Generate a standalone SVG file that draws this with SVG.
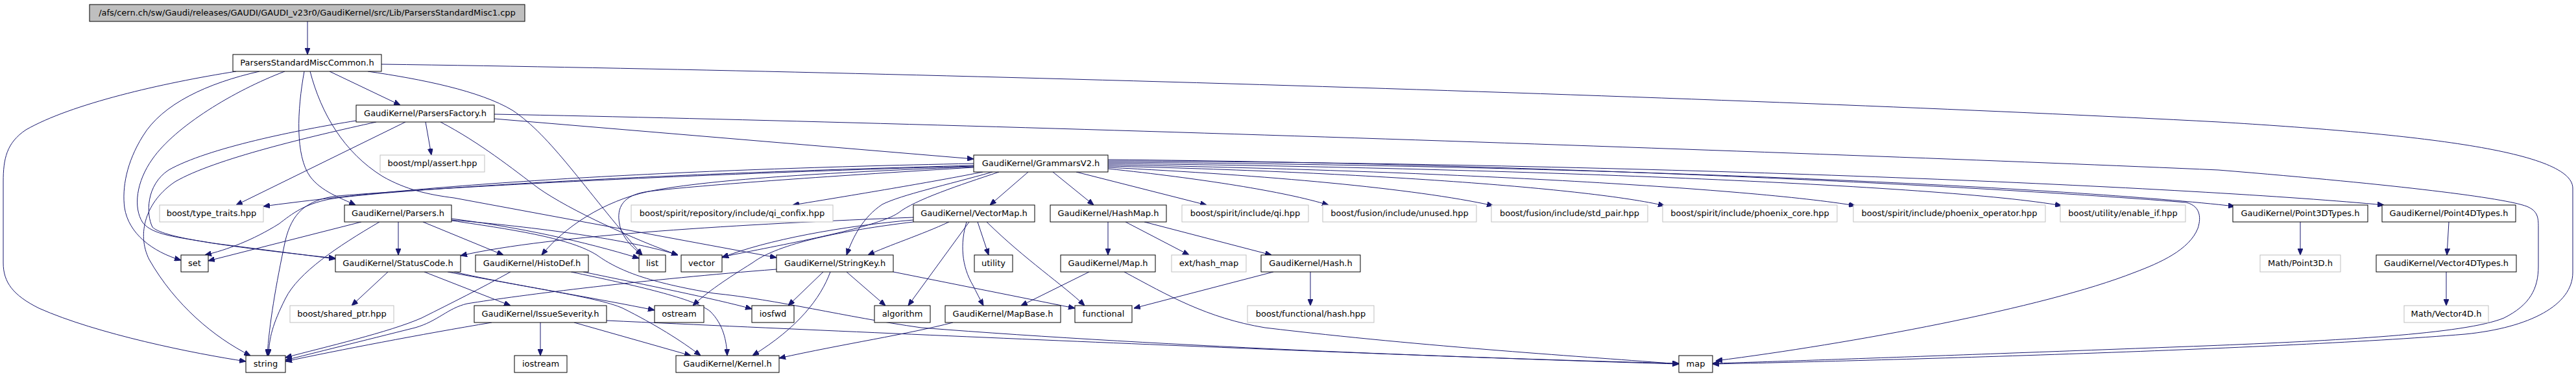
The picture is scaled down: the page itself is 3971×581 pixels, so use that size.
<svg xmlns="http://www.w3.org/2000/svg" width="3971" height="581" viewBox="0 0 3971 581">
<defs>
<style>
.n rect{fill:#ffffff;stroke:#000000;stroke-width:1}
.g rect{fill:#ffffff;stroke:#bfbfbf;stroke-width:1}
.r rect{fill:#bfbfbf;stroke:#000000;stroke-width:1}
text{font-family:"DejaVu Sans","Liberation Sans",sans-serif;font-size:13px;text-anchor:middle;fill:#000000}
#edges path{fill:none;stroke:#191970;stroke-width:1;marker-end:url(#ah)}
</style>
<marker id="ah" markerWidth="10" markerHeight="8" refX="10" refY="4" orient="auto" markerUnits="userSpaceOnUse"><path d="M0,0 L10,4 L0,8 z" fill="#191970" stroke="#191970" stroke-width="1"/></marker>
</defs>
<rect x="0" y="0" width="3971" height="581" fill="#ffffff"/>
<g id="edges">
<path d="M474,33 L474,84"/>
<path d="M364,110 C250,128 110,160 40,200 C10,220 5,245 5,280 L5,405 C5,435 20,455 60,475 C150,515 300,545 379,557"/>
<path d="M400,110 C320,128 250,160 220,210 C195,250 188,290 192,320 C198,360 235,388 279,401"/>
<path d="M439,110 C360,140 270,195 235,245 C210,280 205,320 220,343 C235,362 270,365 330,375 L517,399"/>
<path d="M469,110 C458,170 455,240 478,272 C495,295 525,305 548,316"/>
<path d="M478,110 C495,175 530,235 590,272 C625,292 660,300 700,305 L1197,397"/>
<path d="M508,110 L617,162"/>
<path d="M567,110 C650,122 740,140 790,170 C850,210 900,290 990,393"/>
<path d="M588,99 C1400,110 2700,150 3420,188 C3700,205 3966,230 3966,290 L3966,420 C3966,470 3900,505 3800,515 C3500,540 2800,558 2640,561"/>
<path d="M549,186 C460,200 320,228 260,262 C225,285 225,330 235,350 C250,365 330,378 517,398"/>
<path d="M580,188 C480,210 330,245 270,280 C225,310 210,360 230,400 C270,470 330,520 386,548"/>
<path d="M625,188 L364,316"/>
<path d="M656,188 L665,239"/>
<path d="M679,188 C740,220 790,260 830,290 C880,325 980,370 1045,393"/>
<path d="M762,183 L1501,245"/>
<path d="M762,176 C1500,190 2800,235 3420,262 C3700,285 3860,305 3895,318 C3912,325 3913,335 3913,350 L3913,410 C3913,445 3900,470 3860,490 C3800,515 3600,525 3400,533 C3000,548 2750,557 2640,560"/>
<path d="M1501,252 C1000,262 650,285 406,318"/>
<path d="M1501,255 C1000,268 640,290 520,305 C470,312 450,330 430,345 C390,370 350,385 316,393"/>
<path d="M1501,256 C1000,270 640,292 520,302 C470,308 450,330 440,370 C425,440 415,500 412,548"/>
<path d="M1501,257 C1300,265 1100,275 1000,295 C930,310 870,350 835,393"/>
<path d="M1501,258 C1300,270 1080,285 1000,295 C960,300 950,320 955,345 C958,365 975,382 990,393"/>
<path d="M1515,265 C1450,278 1350,295 1222,316"/>
<path d="M1530,265 C1460,285 1390,300 1360,315 C1330,335 1315,365 1305,393"/>
<path d="M1540,265 C1480,285 1410,308 1385,328 C1350,352 1200,378 1113,396"/>
<path d="M1585,265 L1526,316"/>
<path d="M1623,265 L1686,316"/>
<path d="M1659,265 L1860,316"/>
<path d="M1708,260 C1850,275 1980,295 2048,316"/>
<path d="M1708,258 C1950,270 2180,290 2302,317"/>
<path d="M1708,256 C2100,265 2450,290 2566,317"/>
<path d="M1708,254 C2200,262 2700,290 2860,317"/>
<path d="M1708,252 C2300,258 3000,285 3178,317"/>
<path d="M1708,250 C2500,255 3200,290 3445,318"/>
<path d="M1708,248 C2600,252 3400,290 3675,316"/>
<path d="M1708,246 C2400,252 3100,290 3370,312 C3395,318 3392,340 3388,352 C3375,385 3330,405 3290,420 C3150,475 2850,530 2645,556"/>
<path d="M1708,342 L1708,393"/>
<path d="M1735,342 L1833,393"/>
<path d="M1764,342 L1960,393"/>
<path d="M1679,419 L1574,471"/>
<path d="M1733,419 C1800,455 1860,490 1950,505 C2200,535 2450,550 2588,561"/>
<path d="M1963,419 L1748,475"/>
<path d="M2020,419 L2020,471"/>
<path d="M1408,335 C1150,345 850,362 710,394"/>
<path d="M1408,339 C1300,348 1180,370 1113,397"/>
<path d="M1408,342 C1300,355 1200,375 1160,405 C1120,430 1090,450 1068,471"/>
<path d="M1463,342 C1420,362 1370,378 1338,393"/>
<path d="M1494,342 L1400,471"/>
<path d="M1490,342 C1480,375 1482,410 1500,440 C1505,450 1510,460 1516,471"/>
<path d="M1507,342 L1524,393"/>
<path d="M1521,342 C1580,400 1640,440 1672,471"/>
<path d="M1197,415 C1000,430 800,455 720,468 C690,475 675,495 640,505 C560,525 480,545 440,555"/>
<path d="M1269,419 L1215,471"/>
<path d="M1280,419 C1265,460 1230,505 1160,548"/>
<path d="M1305,419 L1365,471"/>
<path d="M1377,419 L1657,475"/>
<path d="M787,419 C740,445 700,465 650,490 C600,512 500,535 440,551"/>
<path d="M899,419 C1000,440 1100,460 1159,476"/>
<path d="M880,419 C980,440 1070,460 1095,480 C1115,500 1120,525 1121,548"/>
<path d="M598,419 L542,471"/>
<path d="M654,419 L787,471"/>
<path d="M690,419 C800,440 920,460 1009,478"/>
<path d="M700,419 C800,442 920,457 960,475 C1010,500 1050,525 1080,548"/>
<path d="M885,497 L1065,548"/>
<path d="M833,497 L833,548"/>
<path d="M758,497 C650,515 520,540 440,557"/>
<path d="M935,494 C1500,520 2200,550 2588,561"/>
<path d="M696,340 C800,355 880,368 920,393 C955,418 1000,435 1100,452 C1200,462 1300,488 1420,505 C1800,535 2300,553 2588,560"/>
<path d="M652,342 L776,393"/>
<path d="M696,337 C800,350 900,372 985,398"/>
<path d="M696,339 C850,352 980,372 1045,393"/>
<path d="M557,342 L321,402"/>
<path d="M614,342 L614,393"/>
<path d="M585,342 C520,380 460,420 440,460 C420,500 415,520 414,548"/>
<path d="M1469,497 C1400,515 1300,530 1201,552"/>
<path d="M3546,342 L3546,393"/>
<path d="M3775,342 L3772,393"/>
<path d="M3771,419 L3771,471"/>
</g>
<g id="n0" class="r"><rect x="138" y="7" width="671" height="26"/><text x="473.5" y="24">/afs/cern.ch/sw/Gaudi/releases/GAUDI/GAUDI_v23r0/GaudiKernel/src/Lib/ParsersStandardMisc1.cpp</text></g>
<g id="n1" class="n"><rect x="359" y="84" width="229" height="26"/><text x="473.5" y="101">ParsersStandardMiscCommon.h</text></g>
<g id="n2" class="n"><rect x="549" y="162" width="213" height="26"/><text x="655.5" y="179">GaudiKernel/ParsersFactory.h</text></g>
<g id="n3" class="g"><rect x="586" y="239" width="161" height="26"/><text x="666.5" y="256">boost/mpl/assert.hpp</text></g>
<g id="n4" class="n"><rect x="1501" y="239" width="207" height="26"/><text x="1604.5" y="256">GaudiKernel/GrammarsV2.h</text></g>
<g id="n5" class="g"><rect x="246" y="316" width="160" height="26"/><text x="326" y="333">boost/type_traits.hpp</text></g>
<g id="n6" class="n"><rect x="531" y="316" width="165" height="26"/><text x="613.5" y="333">GaudiKernel/Parsers.h</text></g>
<g id="n7" class="g"><rect x="973" y="316" width="311" height="26"/><text x="1128.5" y="333">boost/spirit/repository/include/qi_confix.hpp</text></g>
<g id="n8" class="n"><rect x="1408" y="316" width="187" height="26"/><text x="1501.5" y="333">GaudiKernel/VectorMap.h</text></g>
<g id="n9" class="n"><rect x="1619" y="316" width="179" height="26"/><text x="1708.5" y="333">GaudiKernel/HashMap.h</text></g>
<g id="n10" class="g"><rect x="1822" y="316" width="195" height="26"/><text x="1919.5" y="333">boost/spirit/include/qi.hpp</text></g>
<g id="n11" class="g"><rect x="2039" y="316" width="237" height="26"/><text x="2157.5" y="333">boost/fusion/include/unused.hpp</text></g>
<g id="n12" class="g"><rect x="2299" y="316" width="241" height="26"/><text x="2419.5" y="333">boost/fusion/include/std_pair.hpp</text></g>
<g id="n13" class="g"><rect x="2563" y="316" width="269" height="26"/><text x="2697.5" y="333">boost/spirit/include/phoenix_core.hpp</text></g>
<g id="n14" class="g"><rect x="2857" y="316" width="296" height="26"/><text x="3005" y="333">boost/spirit/include/phoenix_operator.hpp</text></g>
<g id="n15" class="g"><rect x="3176" y="316" width="193" height="26"/><text x="3272.5" y="333">boost/utility/enable_if.hpp</text></g>
<g id="n16" class="n"><rect x="3442" y="316" width="208" height="26"/><text x="3546" y="333">GaudiKernel/Point3DTypes.h</text></g>
<g id="n17" class="n"><rect x="3672" y="316" width="206" height="26"/><text x="3775" y="333">GaudiKernel/Point4DTypes.h</text></g>
<g id="n18" class="n"><rect x="279" y="393" width="42" height="26"/><text x="300" y="410">set</text></g>
<g id="n19" class="n"><rect x="517" y="393" width="193" height="26"/><text x="613.5" y="410">GaudiKernel/StatusCode.h</text></g>
<g id="n20" class="n"><rect x="733" y="393" width="174" height="26"/><text x="820" y="410">GaudiKernel/HistoDef.h</text></g>
<g id="n21" class="n"><rect x="985" y="393" width="41" height="26"/><text x="1005.5" y="410">list</text></g>
<g id="n22" class="n"><rect x="1050" y="393" width="63" height="26"/><text x="1081.5" y="410">vector</text></g>
<g id="n23" class="n"><rect x="1197" y="393" width="180" height="26"/><text x="1287" y="410">GaudiKernel/StringKey.h</text></g>
<g id="n24" class="n"><rect x="1502" y="393" width="59" height="26"/><text x="1531.5" y="410">utility</text></g>
<g id="n25" class="n"><rect x="1635" y="393" width="146" height="26"/><text x="1708" y="410">GaudiKernel/Map.h</text></g>
<g id="n26" class="g"><rect x="1806" y="393" width="115" height="26"/><text x="1863.5" y="410">ext/hash_map</text></g>
<g id="n27" class="n"><rect x="1944" y="393" width="153" height="26"/><text x="2020.5" y="410">GaudiKernel/Hash.h</text></g>
<g id="n28" class="g"><rect x="3484" y="393" width="124" height="26"/><text x="3546" y="410">Math/Point3D.h</text></g>
<g id="n29" class="n"><rect x="3663" y="393" width="216" height="26"/><text x="3771" y="410">GaudiKernel/Vector4DTypes.h</text></g>
<g id="n30" class="g"><rect x="447" y="471" width="160" height="26"/><text x="527" y="488">boost/shared_ptr.hpp</text></g>
<g id="n31" class="n"><rect x="731" y="471" width="204" height="26"/><text x="833" y="488">GaudiKernel/IssueSeverity.h</text></g>
<g id="n32" class="n"><rect x="1009" y="471" width="76" height="26"/><text x="1047" y="488">ostream</text></g>
<g id="n33" class="n"><rect x="1159" y="471" width="65" height="26"/><text x="1191.5" y="488">iosfwd</text></g>
<g id="n34" class="n"><rect x="1348" y="471" width="86" height="26"/><text x="1391" y="488">algorithm</text></g>
<g id="n35" class="n"><rect x="1457" y="471" width="178" height="26"/><text x="1546" y="488">GaudiKernel/MapBase.h</text></g>
<g id="n36" class="n"><rect x="1657" y="471" width="88" height="26"/><text x="1701" y="488">functional</text></g>
<g id="n37" class="g"><rect x="1923" y="471" width="195" height="26"/><text x="2020.5" y="488">boost/functional/hash.hpp</text></g>
<g id="n38" class="g"><rect x="3706" y="471" width="130" height="26"/><text x="3771" y="488">Math/Vector4D.h</text></g>
<g id="n39" class="n"><rect x="379" y="548" width="61" height="26"/><text x="409.5" y="565">string</text></g>
<g id="n40" class="n"><rect x="793" y="548" width="81" height="26"/><text x="833.5" y="565">iostream</text></g>
<g id="n41" class="n"><rect x="1042" y="548" width="159" height="26"/><text x="1121.5" y="565">GaudiKernel/Kernel.h</text></g>
<g id="n42" class="n"><rect x="2588" y="548" width="52" height="26"/><text x="2614" y="565">map</text></g>
</svg>
